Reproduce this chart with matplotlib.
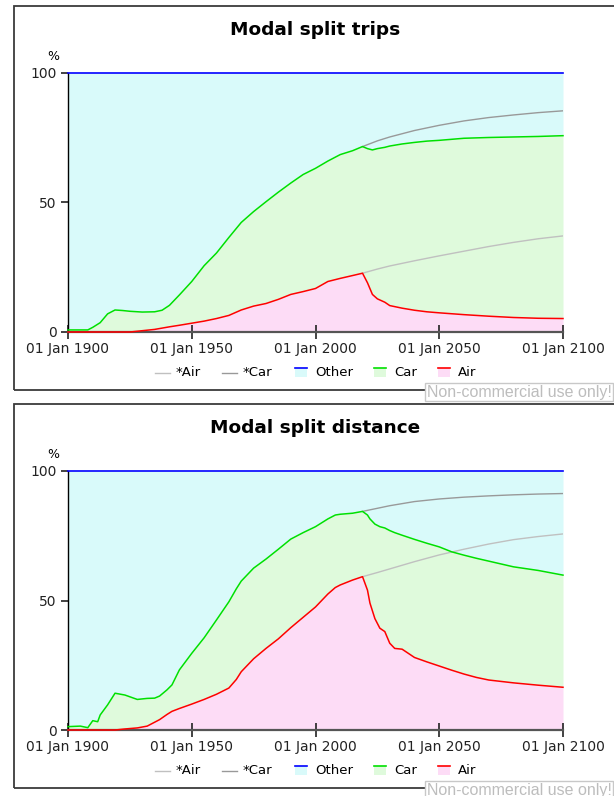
import numpy as np
import matplotlib
matplotlib.use("Agg")
from matplotlib import pyplot as plt
from matplotlib.patches import Rectangle
from matplotlib.lines import Line2D

W, H = 614, 796

# Modal split trips (%), shares per mode
trips_years = [1900, 1905, 1908, 1910, 1913, 1916, 1919, 1922, 1925, 1930, 1935, 1938, 1941,
               1945, 1950, 1955, 1960, 1965, 1970, 1975, 1980, 1985, 1990, 1995, 2000, 2005,
               2010, 2015, 2019, 2021, 2023, 2025, 2028, 2030, 2035, 2040, 2045, 2050, 2060,
               2070, 2080, 2090, 2100]
trips_air = [0, 0, 0, 0, 0, 0, 0, 0, 0, 0.5, 1.0, 1.5, 2.0,
             2.6, 3.4, 4.2, 5.2, 6.4, 8.5, 10.0, 11.0, 12.6, 14.5, 15.6, 16.8, 19.5,
             20.7, 21.8, 22.7, 19.0, 14.5, 12.8, 11.5, 10.2, 9.2, 8.4, 7.8, 7.4, 6.7,
             6.1, 5.6, 5.3, 5.2]
trips_car = [0.8, 0.8, 0.8, 1.8, 3.6, 7.0, 8.5, 8.3, 8.0, 7.2, 6.8, 6.9, 8.3,
             11.7, 16.1, 21.4, 25.3, 30.1, 33.8, 36.5, 39.3, 41.4, 43.0, 45.2, 46.4, 46.5,
             47.8, 48.2, 48.9, 51.8, 55.8, 58.0, 59.8, 61.6, 63.4, 64.8, 65.9, 66.6, 68.1,
             69.0, 69.7, 70.2, 70.6]
# reference runs (*Air, *Car), plotted as stacked levels
trips_proj_years = [2019, 2025, 2030, 2040, 2050, 2060, 2070, 2080, 2090, 2100]
trips_air_proj = [22.7, 24.3, 25.5, 27.5, 29.4, 31.2, 33.0, 34.6, 36.0, 37.1]
trips_car_proj = [71.6, 73.8, 75.3, 77.8, 79.8, 81.5, 82.8, 83.8, 84.7, 85.4]

# Modal split distance (%)
dist_years = [1900, 1905, 1908, 1910, 1912, 1913, 1916, 1919, 1923, 1928, 1932, 1935, 1937,
              1940, 1942, 1945, 1950, 1955, 1960, 1965, 1968, 1970, 1975, 1980, 1985, 1990,
              1995, 2000, 2005, 2008, 2010, 2015, 2019, 2021, 2022, 2024, 2026, 2028, 2030,
              2032, 2035, 2040, 2045, 2050, 2055, 2060, 2065, 2070, 2080, 2090, 2100]
dist_air = [0, 0, 0, 0, 0, 0, 0, 0, 0.4, 0.8, 1.5, 3.0, 4.0,
            6.0, 7.2, 8.3, 10.0, 11.8, 13.8, 16.2, 19.5, 22.5, 27.5, 31.5, 35.2, 39.5,
            43.5, 47.5, 52.5, 55.0, 56.0, 57.9, 59.2, 54.0, 49.0, 43.0, 39.3, 38.0, 33.5,
            31.5, 31.2, 28.0, 26.3, 24.7, 23.1, 21.6, 20.3, 19.3, 18.2, 17.3, 16.5]
dist_car = [1.3, 1.5, 0.9, 3.6, 3.2, 5.8, 9.7, 14.2, 13.1, 11.0, 10.7, 9.3, 9.1,
            9.5, 10.2, 14.9, 19.6, 23.8, 28.7, 33.3, 35.0, 35.0, 35.0, 34.5, 34.6, 34.2,
            32.7, 31.0, 29.0, 28.0, 27.3, 25.8, 25.2, 29.0, 32.5, 36.5, 39.2, 40.0, 43.5,
            44.7, 44.0, 45.6, 45.8, 46.0, 45.7, 45.9, 46.0, 45.9, 44.8, 44.3, 43.3]
dist_proj_years = [2019, 2025, 2030, 2040, 2050, 2060, 2070, 2080, 2090, 2100]
dist_air_proj = [59.2, 60.8, 62.2, 65.0, 67.6, 69.8, 71.8, 73.5, 74.7, 75.7]
dist_car_proj = [84.4, 85.6, 86.6, 88.2, 89.2, 89.9, 90.4, 90.8, 91.1, 91.3]

tick_years = [1900, 1950, 2000, 2050, 2100]
tick_labels = ["01 Jan {}".format(y) for y in tick_years]

# colours
C_OTHER_FILL = "#d9fafa"
C_CAR_FILL = "#dffadc"
C_AIR_FILL = "#fddcf6"
C_OTHER = "#0000ff"
C_CAR = "#00e000"
C_AIR = "#ff0000"
C_AIR_P = "#c0c0c0"
C_CAR_P = "#999999"

fig = plt.figure(figsize=(W / 100, H / 100), dpi=100)
fig.patch.set_facecolor("white")


def fx(x):
    return x / W


def fy(y):
    return 1 - y / H


def panel(dy, title, years, air, car, p_years, air_p, car_p):
    air = np.array(air)
    car = np.array(car)
    level = air + car
    other = 100 - level

    # frame round the panel
    fig.add_artist(Rectangle((fx(14), fy(390 + dy)), fx(616 - 14), (390 - 6) / H,
                             transform=fig.transFigure, fill=False, ec="#3a3a3a",
                             lw=1.3, zorder=1))

    ax = fig.add_axes([fx(68), fy(332 + dy), fx(563 - 68), (332 - 73) / H])
    ax.fill_between(years, level, level + other, color=C_OTHER_FILL, lw=0)
    ax.fill_between(years, air, level, color=C_CAR_FILL, lw=0)
    ax.fill_between(years, 0, air, color=C_AIR_FILL, lw=0)
    ax.plot(p_years, air_p, color=C_AIR_P, lw=1, zorder=3)
    ax.plot(p_years, car_p, color=C_CAR_P, lw=1, zorder=3)
    ax.plot(years, level + other, color=C_OTHER, lw=1.2, clip_on=False, zorder=4)
    ax.plot(years, level, color=C_CAR, lw=1.1, clip_on=False, zorder=4)
    ax.plot(years, air, color=C_AIR, lw=1.1, clip_on=False, zorder=4)

    ax.set_xlim(1900, 2100)
    ax.set_ylim(0, 100)
    ax.set_xticks(tick_years)
    ax.set_xticklabels(tick_labels)
    ax.set_yticks([0, 50, 100])
    ax.spines["top"].set_visible(False)
    ax.spines["right"].set_visible(False)
    ax.spines["left"].set_color("black")
    ax.spines["left"].set_linewidth(1)
    ax.spines["bottom"].set_color("#555555")
    ax.spines["bottom"].set_linewidth(1.6)
    ax.tick_params(axis="x", direction="inout", length=10, width=1.2, pad=2,
                   labelsize=10, colors="#222222")
    ax.tick_params(axis="y", direction="out", length=5, width=1.2, pad=3,
                   labelsize=10, colors="#222222")
    ax.set_facecolor("white")

    fig.text(fx(315.5), fy(30 + dy), title, ha="center", va="center",
             fontsize=13.3, fontweight="bold")
    fig.text(fx(53), fy(57 + dy), "%", ha="center", va="center", fontsize=9)

    # legend
    ly = 372.5 + dy
    for x0, col, lab in [(155, C_AIR_P, "*Air"), (222, C_CAR_P, "*Car")]:
        fig.add_artist(Line2D([fx(x0), fx(x0 + 15)], [fy(ly), fy(ly)],
                              transform=fig.transFigure, color=col, lw=1))
        fig.text(fx(x0 + 21), fy(ly), lab, ha="left", va="center", fontsize=9.5)
    for x0, fcol, lcol, lab in [(295, C_OTHER_FILL, C_OTHER, "Other"),
                                (374, C_CAR_FILL, C_CAR, "Car"),
                                (438, C_AIR_FILL, C_AIR, "Air")]:
        fig.add_artist(Rectangle((fx(x0), fy(ly + 4.5)), fx(12), 9 / H,
                                 transform=fig.transFigure, fc=fcol, ec="none"))
        fig.add_artist(Line2D([fx(x0), fx(x0 + 12)], [fy(ly - 4.3), fy(ly - 4.3)],
                              transform=fig.transFigure, color=lcol, lw=1.2))
        fig.text(fx(x0 + 20), fy(ly), lab, ha="left", va="center", fontsize=9.5)

    # watermark
    fig.add_artist(Rectangle((fx(425), fy(400.5 + dy)), fx(188), 17.5 / H,
                             transform=fig.transFigure, fc="white", ec="#c8c8c8",
                             lw=1, zorder=6))
    fig.text(fx(519), fy(392 + dy), "Non-commercial use only!", ha="center",
             va="center", fontsize=11.5, family="Liberation Sans", color="#bdbdbd",
             zorder=7)
    return ax


panel(0, "Modal split trips", trips_years, trips_air, trips_car,
      trips_proj_years, trips_air_proj, trips_car_proj)
panel(398, "Modal split distance", dist_years, dist_air, dist_car,
      dist_proj_years, dist_air_proj, dist_car_proj)

fig.savefig("out.png", dpi=100)
